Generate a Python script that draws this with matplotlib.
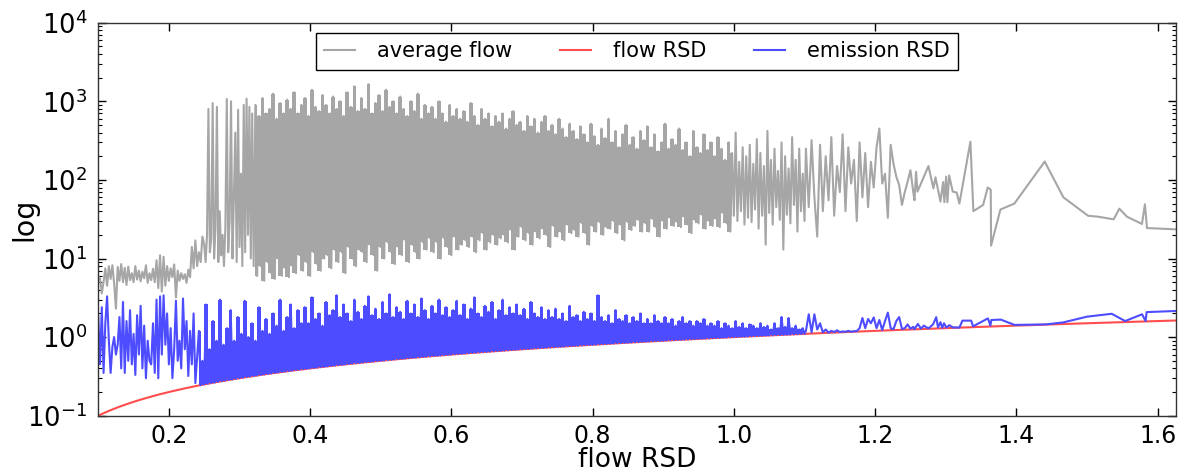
import numpy as np
import matplotlib
matplotlib.use("Agg")
import matplotlib.pyplot as plt

plt.rcParams["path.simplify"] = False

# ---------------- data ----------------
x_range = [0.1, 1.626]

# average flow: sparse start (x from 0.100, step 0.0025)
avg_a_start, avg_a_step = 0.100, 0.0025
avg_a = [6.0, 5.5, 3.6, 5.0, 7.5, 4.5, 8.0, 5.5, 8.2, 4.8,
         2.3, 7.8, 5.2, 8.5, 5.0, 7.6, 4.6, 7.9, 5.3, 6.5,
         5.0, 8.0, 5.4, 7.0, 5.1, 6.8, 5.6, 8.2, 4.9, 6.5,
         5.3, 7.4, 5.0, 9.5, 4.2, 11.0, 3.8, 10.5, 4.5, 8.0,
         5.2, 7.5, 5.8, 8.4, 3.2, 7.0, 5.2, 6.5, 5.5, 6.3,
         4.9, 7.2, 5.8, 14.0, 7.5, 17.0, 8.0, 12.0, 9.0, 19.0]
# average flow: spiky transition (x from 0.250, step 0.002)
avg_b_start, avg_b_step = 0.250, 0.002
avg_b = [15, 9, 20, 800, 12, 18, 950, 10, 25, 850,
         9, 40, 11, 20, 8, 25, 1070, 12, 30, 1000,
         10, 60, 400, 9, 780, 14, 120, 8, 900, 12,
         1080, 20, 850, 10, 700, 8]
# average flow: dense band, one peak + one trough per bin (bins from 0.3225, width 0.005)
avg_c_start, avg_c_step = 0.3225, 0.005
avg_c_hi = [900, 650, 1100, 700, 800, 1250, 600, 950, 700, 1050,
            800, 1300, 700, 900, 1100, 650, 1400, 850, 750, 1200,
            900, 700, 1150, 800, 1000, 650, 1300, 850, 1550, 750,
            1100, 800, 1650, 700, 950, 1200, 750, 1400, 850, 1000,
            700, 1150, 800, 650, 1000, 750, 1250, 600, 900, 700,
            850, 600, 1000, 700, 550, 900, 650, 800, 600, 750,
            550, 950, 650, 500, 800, 600, 700, 480, 650, 550,
            700, 450, 600, 750, 500, 550, 420, 650, 480, 600,
            400, 550, 650, 420, 500, 380, 600, 450, 350, 520,
            420, 330, 480, 380, 300, 520, 360, 280, 450, 340,
            600, 300, 420, 260, 380, 500, 280, 350, 250, 420,
            320, 480, 260, 380, 230, 300, 520, 250, 330, 280,
            450, 240, 300, 200, 420, 260, 220, 380, 240, 300,
            200, 350, 250, 180, 300, 220, 400, 170, 260, 200,
            280, 160, 330, 220, 150, 420, 180, 250, 130, 300,
            200, 140, 350, 180, 250, 120]
avg_c_lo = [6, 8, 5.2, 9, 6.5, 5.5, 10, 6, 7.5, 5.8,
            8, 6.5, 11, 7, 9, 6, 12, 8.5, 7, 10,
            11, 7.5, 13, 9, 12, 6.5, 14, 10, 8, 13,
            12, 9, 15, 11, 7, 14, 10, 16, 12, 8.5,
            14, 11, 17, 9, 15, 12, 10, 16, 13, 18,
            12, 16, 10, 18, 14, 11, 19, 13, 15, 17,
            14, 19, 12, 17, 21, 13, 16, 20, 15, 18,
            20, 16, 23, 13, 19, 25, 17, 21, 15, 22,
            18, 24, 20, 14, 26, 19, 22, 17, 27, 21,
            23, 19, 28, 21, 15, 26, 22, 29, 20, 25,
            24, 30, 21, 27, 17, 29, 23, 26, 31, 22,
            28, 22, 32, 25, 19, 30, 24, 33, 26, 29,
            25, 34, 27, 21, 31, 28, 36, 24, 30, 26,
            32, 25, 38, 28, 22, 35, 30, 40, 27, 33,
            29, 42, 24, 35, 15, 38, 27, 45, 31, 13,
            36, 28, 48, 22, 40, 30]
# average flow: thinning part (x from 1.102, step 0.004)
avg_d_start, avg_d_step = 1.102, 0.004
avg_d = [250, 45, 320, 60, 19, 280, 40, 200, 55, 350,
         35, 150, 70, 380, 40, 260, 90, 180, 30, 300,
         60, 220, 45, 170, 80, 260, 450, 90, 120, 33,
         280, 160, 110, 86, 48, 70, 95, 133, 70]
# average flow: individual tail points
avg_tail_x = [1.2557, 1.2580, 1.2600, 1.2755, 1.2825, 1.2854, 1.2925, 1.2963, 1.2980, 1.3005,
              1.3023, 1.3048, 1.3099, 1.3155, 1.3193, 1.3349, 1.3391, 1.3529, 1.3594, 1.3637,
              1.3642, 1.3774, 1.3972, 1.4401, 1.4666, 1.5015, 1.5160, 1.5377, 1.5458, 1.5566,
              1.5778, 1.5820, 1.5849, 1.6259]
avg_tail_y = [55, 127, 71, 150, 78, 108, 53, 94, 52, 110,
              52, 114, 71, 69, 50, 306, 40, 48, 80, 75,
              14.6, 42, 50, 171, 60, 35, 34, 31.5, 43, 34,
              27.5, 49, 24.4, 23.5]

# emission RSD: sparse start (x from 0.100, step 0.0025)
emi_a_start, emi_a_step = 0.100, 0.0025
emi_a = [1.8, 0.45, 2.4, 0.35, 1.5, 3.3, 0.9, 0.35, 0.75, 1.0,
         0.6, 0.8, 1.8, 0.4, 2.8, 0.35, 1.6, 0.5, 2.2, 0.45,
         1.1, 0.33, 1.9, 0.6, 2.5, 0.4, 1.4, 0.3, 0.9, 0.5,
         0.45, 1.5, 0.35, 3.0, 0.3, 3.3, 0.6, 3.4, 0.8, 2.0,
         0.45, 1.3, 0.3, 0.7, 2.9, 0.5, 0.9, 0.4, 3.1, 0.7,
         1.6, 0.32, 1.2, 0.45, 2.0, 0.26]
# emission RSD: dense band peaks (bins from 0.2425, width 0.005); troughs sit on the flow RSD
emi_b_start, emi_b_step = 0.2425, 0.005
emi_b_hi = [1.2, 0.5, 2.6, 0.7, 1.6, 0.9, 3.0, 0.8, 1.3, 2.2,
            0.9, 1.8, 1.1, 2.9, 1.0, 1.5, 0.9, 2.4, 1.2, 1.7,
            1.1, 2.0, 1.4, 3.0, 1.2, 1.8, 2.6, 1.3, 2.2, 1.5,
            2.4, 1.5, 3.2, 1.7, 2.0, 1.4, 2.8, 1.9, 2.2, 3.4,
            1.8, 2.6, 2.0, 1.6, 3.0, 2.1, 1.7, 2.5, 3.3, 1.9,
            2.3, 1.7, 2.8, 2.0, 3.5, 1.8, 2.4, 2.1, 1.7, 2.9,
            2.0, 2.6, 1.8, 3.1, 2.2, 1.7, 2.5, 2.0, 3.0, 1.9,
            2.4, 1.8, 2.2, 2.9, 1.9, 2.6, 1.7, 2.3, 3.2, 2.0,
            1.8, 2.5, 2.1, 2.8, 1.7, 2.2, 3.0, 1.9, 2.4, 2.0,
            2.6, 1.9, 2.3, 1.7, 2.8, 2.0, 1.8, 2.4, 1.7, 2.2,
            1.8, 2.3, 1.7, 2.0, 1.6, 2.5, 1.8, 1.9, 1.6, 2.1,
            1.7, 2.0, 1.6, 3.4, 1.8, 1.6, 1.9, 1.5, 2.2, 1.7,
            1.6, 1.9, 1.5, 1.8, 1.6, 2.0, 1.5, 1.7, 1.5, 1.9,
            1.6, 1.5, 1.8, 1.5, 1.7, 1.4, 1.6, 1.8, 1.5, 1.6,
            1.4, 1.6, 1.5, 1.7, 1.4, 1.5, 1.4, 1.6, 1.3, 1.5,
            1.4, 1.3, 1.6, 1.35, 1.5, 1.3, 1.45, 1.4, 1.3, 1.5,
            1.35, 1.4, 1.25, 1.5, 1.3, 1.8, 1.35, 1.75, 1.3, 1.4,
            1.25, 1.3]
# emission RSD: thinning part (x from 1.102, step 0.004)
emi_c_start, emi_c_step = 1.102, 0.004
emi_c = [1.2, 1.95, 1.15, 1.95, 1.25, 1.5, 1.15, 1.25, 1.14, 1.2,
         1.16, 1.22, 1.16, 1.18, 1.17, 1.2, 1.17, 1.19, 1.19, 1.3,
         1.75, 1.3, 1.7, 1.5, 1.78, 1.3, 1.65, 1.23, 1.6, 2.05,
         1.3, 1.26, 1.6, 1.8, 1.27, 1.3, 1.45, 1.28, 1.35]
# emission RSD: individual tail points
emi_tail_x = [1.2557, 1.2604, 1.2650, 1.2690, 1.2755, 1.2820, 1.2865, 1.2890, 1.2925, 1.2950,
              1.2975, 1.3010, 1.3050, 1.3100, 1.3193, 1.3236, 1.3360, 1.3387, 1.3597, 1.3632,
              1.3645, 1.3780, 1.3972, 1.4420, 1.4666, 1.5000, 1.5350, 1.5540, 1.5780, 1.5830,
              1.5844, 1.6259]
emi_tail_y = [1.26, 1.47, 1.28, 1.40, 1.29, 1.45, 1.79, 1.33, 1.55, 1.31,
              1.50, 1.32, 1.42, 1.33, 1.32, 1.62, 1.62, 1.37, 1.73, 1.40,
              1.65, 1.67, 1.43, 1.45, 1.54, 1.82, 1.98, 1.60, 1.95, 1.60,
              2.08, 2.15]

labels = ["average flow", "flow RSD", "emission RSD"]
# gray / red / blue at 70 % opacity over white
colors = ["#a6a6a6", "#ff4d4d", "#4d4dff"]


# ---------------- assemble series ----------------
def grid(start, step, n):
    return start + step * np.arange(n)


def zigzag(x_peak, peaks, x_trough, troughs):
    xs = np.empty(2 * len(peaks))
    ys = np.empty(2 * len(peaks))
    xs[0::2], xs[1::2] = x_peak, x_trough
    ys[0::2], ys[1::2] = peaks, troughs
    return xs, ys


# average flow
ga_x = grid(avg_a_start, avg_a_step, len(avg_a))
gb_x = grid(avg_b_start, avg_b_step, len(avg_b))
gc_xp = grid(avg_c_start, avg_c_step, len(avg_c_hi))
gc_x, gc_y = zigzag(gc_xp, avg_c_hi, gc_xp + avg_c_step / 2, avg_c_lo)
gd_x = grid(avg_d_start, avg_d_step, len(avg_d))
avg_x = np.concatenate([ga_x, gb_x, gc_x, gd_x, avg_tail_x])
avg_y = np.concatenate([avg_a, avg_b, gc_y, avg_d, avg_tail_y])

# flow RSD (plotted against itself)
flow_x = np.linspace(x_range[0], x_range[1], 600)
flow_y = flow_x

# emission RSD
ea_x = grid(emi_a_start, emi_a_step, len(emi_a))
eb_xp = grid(emi_b_start, emi_b_step, len(emi_b_hi))
eb_xt = eb_xp + emi_b_step / 2
eb_x, eb_y = zigzag(eb_xp, emi_b_hi, eb_xt, eb_xt)
ec_x = grid(emi_c_start, emi_c_step, len(emi_c))
emi_x = np.concatenate([ea_x, eb_x, ec_x, emi_tail_x])
emi_y = np.concatenate([emi_a, eb_y, emi_c, emi_tail_y])

# where the gray strokes merge into a solid band
solid = gc_xp < 1.0

# ---------------- plot ----------------
fig = plt.figure(figsize=(11.91, 4.71), dpi=100)
ax = fig.add_axes([0.0825, 0.1174, 0.9049, 0.8344])

ax.fill_between(gc_xp[solid], np.array(avg_c_lo)[solid], np.array(avg_c_hi)[solid],
                step="mid", color=colors[0], lw=0, zorder=1)
ax.plot(avg_x, avg_y, color=colors[0], lw=1.5, label=labels[0], zorder=2)
ax.plot(flow_x, flow_y, color=colors[1], lw=1.5, label=labels[1], zorder=2)
ax.fill_between(eb_xp, eb_xp, emi_b_hi, step="mid", color=colors[2], lw=0, zorder=3)
ax.plot(emi_x, emi_y, color=colors[2], lw=1.5, label=labels[2], zorder=3)

ax.set_yscale("log")
ax.set_xlim(x_range)
ax.set_ylim(0.1, 1e4)
ax.set_xticks([0.2, 0.4, 0.6, 0.8, 1.0, 1.2, 1.4, 1.6])
ax.set_xticklabels(["0.2", "0.4", "0.6", "0.8", "1.0", "1.2", "1.4", "1.6"])

ax.tick_params(which="both", direction="in", top=True, right=True)
ax.tick_params(which="major", length=5.5, width=1)
ax.tick_params(which="minor", length=2.8, width=0.8)
ax.tick_params(axis="x", labelsize=17, pad=6)
ax.tick_params(axis="y", labelsize=18.5, pad=8)
for s in ax.spines.values():
    s.set_color("#333333")
    s.set_linewidth(1.0)
    s.set_zorder(5)

ax.set_xlabel("flow RSD", fontsize=19, labelpad=-1)
ax.set_ylabel("log", fontsize=20.5)
ax.yaxis.set_label_coords(-0.0553, 0.5)

leg = ax.legend(loc="upper center", ncol=3, fontsize=15, fancybox=False,
                edgecolor="black", framealpha=1, handlelength=1.48,
                handletextpad=1.06, columnspacing=2.3, borderpad=0.4,
                borderaxespad=0.5)
leg.get_frame().set_linewidth(1.0)
leg.set_zorder(10)

fig.savefig("out.png", dpi=100, facecolor="white")
